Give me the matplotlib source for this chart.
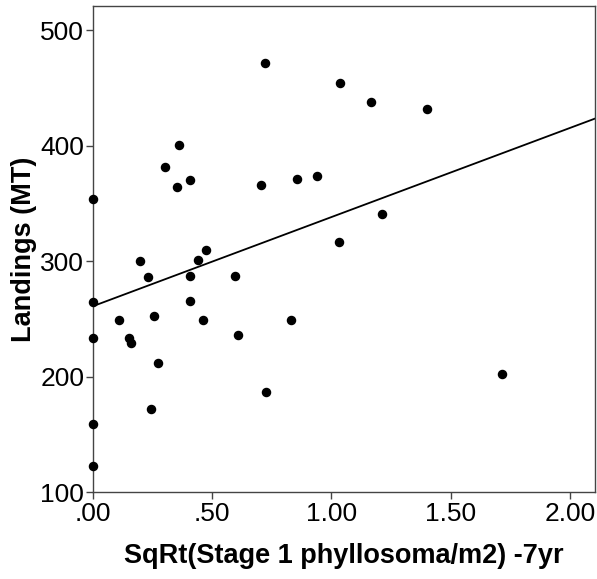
import numpy as np
import matplotlib
matplotlib.use("Agg")
import matplotlib.pyplot as plt

plt.rcParams["font.family"] = ["Liberation Sans", "DejaVu Sans"]

# scatter values
stage1_sqrt = [0.0, 0.0, 0.0, 0.0, 0.0, 0.111, 0.152, 0.161, 0.200, 0.234, 0.244, 0.258,
               0.273, 0.305, 0.354, 0.362, 0.408, 0.408, 0.410, 0.442, 0.461, 0.474,
               0.595, 0.611, 0.704, 0.722, 0.725, 0.830, 0.858, 0.940, 1.031, 1.038,
               1.165, 1.214, 1.401, 1.715]
landings = [354, 265, 234, 159, 123, 249, 234, 229, 300, 286, 172, 253,
            212, 382, 364, 401, 370, 266, 287, 301, 249, 310,
            287, 236, 366, 472, 187, 249, 371, 374, 317, 454,
            438, 341, 432, 202]

# fit line as drawn in the figure
fit_intercept = 261.0
fit_slope = 77.2

x_ticks = [0.0, 0.5, 1.0, 1.5, 2.0]
x_tick_labels = [".00", ".50", "1.00", "1.50", "2.00"]
y_ticks = [100, 200, 300, 400, 500]

fig = plt.figure(figsize=(5.97, 5.79), dpi=100)
ax = fig.add_axes([0.155, 0.1497, 0.8416, 0.84])

ax.scatter(stage1_sqrt, landings, s=34, color="black", zorder=3, clip_on=False)

xmin, xmax = 0.0, 2.105
line_x = np.array([xmin, xmax])
ax.plot(line_x, fit_intercept + fit_slope * line_x, color="black", lw=1.3)

ax.set_xlim(xmin, xmax)
ax.set_ylim(100, 521)
ax.set_xticks(x_ticks)
ax.set_xticklabels(x_tick_labels)
ax.set_yticks(y_ticks)

for sp in ax.spines.values():
    sp.set_color("#444444")
    sp.set_linewidth(1.0)
ax.tick_params(direction="out", length=5, width=1, color="#444444",
               labelsize=19, pad=2)
ax.tick_params(axis="y", pad=1)

ax.set_xlabel("SqRt(Stage 1 phyllosoma/m2) -7yr", fontsize=19.5, fontweight="bold", labelpad=12)
ax.set_ylabel("Landings (MT)", fontsize=19.5, fontweight="bold", labelpad=2)

fig.savefig("out.png", dpi=100)
